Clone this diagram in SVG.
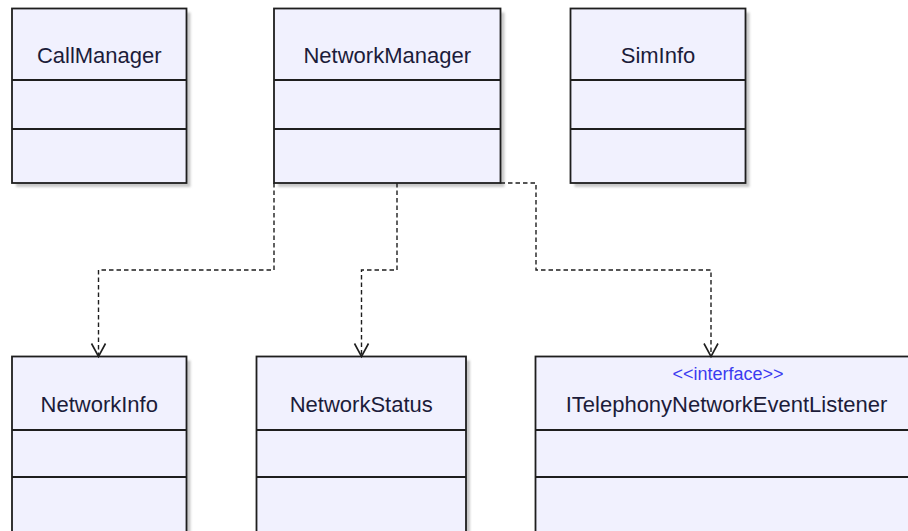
<svg xmlns="http://www.w3.org/2000/svg" width="908" height="531" viewBox="0 0 908 531">
  <style>
    .box { fill: #f1f1fe; stroke: #1e1e1e; stroke-width: 1.8; }
    .shadow { fill: #c9c9c9; }
    .div { stroke: #1e1e1e; stroke-width: 1.8; }
    .name { font-family: "Liberation Sans", Arial, sans-serif; font-size: 22px; fill: #1c1c3a; text-anchor: middle; }
    .stereo { font-family: "Liberation Sans", Arial, sans-serif; font-size: 18px; fill: #3b3bf0; text-anchor: middle; }
    .dep { fill: none; stroke: #1e1e1e; stroke-width: 1.4; stroke-dasharray: 4.5 3; }
  </style>
  <defs>
    <filter id="soft" x="-10%" y="-10%" width="120%" height="120%">
      <feGaussianBlur stdDeviation="0.8"/>
    </filter>
    <marker id="openArrow" markerUnits="userSpaceOnUse" markerWidth="30" markerHeight="30" refX="0" refY="0" orient="auto" overflow="visible">
      <path d="M-13,-7 L0,0 L-13,7" fill="none" stroke="#1e1e1e" stroke-width="1.6"/>
    </marker>
  </defs>

  <rect width="908" height="531" fill="#ffffff"/>

  <!-- top row -->
  <g id="CallManager">
    <rect class="shadow" x="16" y="12.5" width="174.5" height="174.5" filter="url(#soft)"/>
    <rect class="box" x="12" y="8.5" width="174.5" height="174.5"/>
    <line class="div" x1="12" y1="80" x2="186.5" y2="80"/>
    <line class="div" x1="12" y1="129" x2="186.5" y2="129"/>
    <text class="name" x="99.25" y="63">CallManager</text>
  </g>

  <g id="NetworkManager">
    <rect class="shadow" x="278" y="12.5" width="226.5" height="174.5" filter="url(#soft)"/>
    <rect class="box" x="274" y="8.5" width="226.5" height="174.5"/>
    <line class="div" x1="274" y1="80" x2="500.5" y2="80"/>
    <line class="div" x1="274" y1="129" x2="500.5" y2="129"/>
    <text class="name" x="387.25" y="63">NetworkManager</text>
  </g>

  <g id="SimInfo">
    <rect class="shadow" x="574.5" y="12.5" width="175" height="174.5" filter="url(#soft)"/>
    <rect class="box" x="570.5" y="8.5" width="175" height="174.5"/>
    <line class="div" x1="570.5" y1="80" x2="745.5" y2="80"/>
    <line class="div" x1="570.5" y1="129" x2="745.5" y2="129"/>
    <text class="name" x="658" y="63">SimInfo</text>
  </g>

  <!-- bottom row -->
  <g id="NetworkInfo">
    <rect class="shadow" x="16" y="360.5" width="174.5" height="200" filter="url(#soft)"/>
    <rect class="box" x="12" y="356.5" width="174.5" height="200"/>
    <line class="div" x1="12" y1="430" x2="186.5" y2="430"/>
    <line class="div" x1="12" y1="477" x2="186.5" y2="477"/>
    <text class="name" x="99.25" y="411.5">NetworkInfo</text>
  </g>

  <g id="NetworkStatus">
    <rect class="shadow" x="260.5" y="360.5" width="209.5" height="200" filter="url(#soft)"/>
    <rect class="box" x="256.5" y="356.5" width="209.5" height="200"/>
    <line class="div" x1="256.5" y1="430" x2="466" y2="430"/>
    <line class="div" x1="256.5" y1="477" x2="466" y2="477"/>
    <text class="name" x="361.25" y="411.5">NetworkStatus</text>
  </g>

  <g id="ITelephonyNetworkEventListener">
    <rect class="box" x="535.5" y="356.5" width="382" height="200"/>
    <line class="div" x1="535.5" y1="430" x2="917.5" y2="430"/>
    <line class="div" x1="535.5" y1="477" x2="917.5" y2="477"/>
    <text class="stereo" x="728" y="379.5">&lt;&lt;interface&gt;&gt;</text>
    <text class="name" x="726.5" y="411.5">ITelephonyNetworkEventListener</text>
  </g>

  <!-- dependency connectors -->
  <g id="connectors">
    <path class="dep" d="M274,183 V270 H98.5 V356.5" marker-end="url(#openArrow)"/>
    <path class="dep" d="M397,183 V270 H361.5 V356.5" marker-end="url(#openArrow)"/>
    <path class="dep" d="M500.5,183 H536 V270 H711 V356.5" marker-end="url(#openArrow)"/>
  </g>
</svg>
